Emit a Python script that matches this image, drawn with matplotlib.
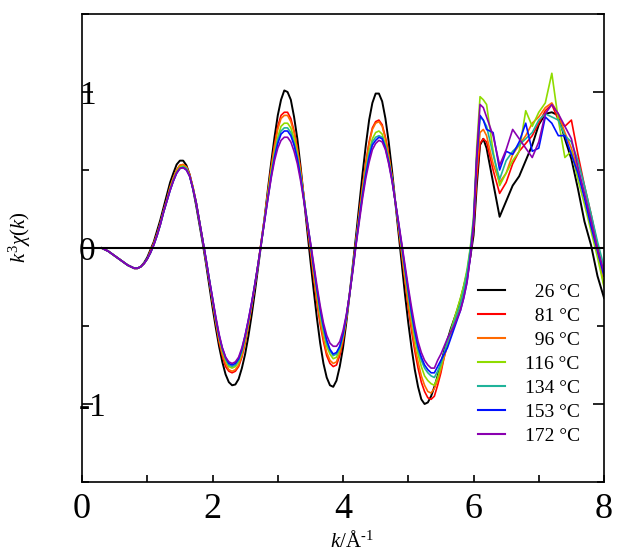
import numpy as np
import matplotlib
matplotlib.use('Agg')
import matplotlib.pyplot as plt
from matplotlib.ticker import MultipleLocator

plt.rcParams['font.family'] = ['Liberation Serif', 'DejaVu Serif']
plt.rcParams['mathtext.fontset'] = 'custom'
plt.rcParams['mathtext.rm'] = 'Liberation Serif'
plt.rcParams['mathtext.it'] = 'Liberation Serif:italic'
plt.rcParams['axes.unicode_minus'] = False

# k grid: 0.30 ... 6.20 every 0.05, then 6.3 ... 8.0 every 0.1
k = np.concatenate([np.arange(0.30, 6.201, 0.05), np.arange(6.3, 8.001, 0.1)])

temps = ['26', '81', '96', '116', '134', '153', '172']
colours = ['black', '#ff0000', '#ff6a00', '#8fdc00', '#1fb39a', '#0010ff', '#8a00b0']

chi_26 = [0.00, -0.01, -0.02, -0.035, -0.05, -0.065, -0.08, -0.095, -0.11, -0.12,
          -0.13, -0.13, -0.12, -0.095, -0.06, -0.01, 0.04, 0.11, 0.18, 0.26,
          0.34, 0.42, 0.48, 0.535, 0.56, 0.56, 0.53, 0.47, 0.38, 0.27,
          0.15, 0.03, -0.10, -0.24, -0.38, -0.51, -0.63, -0.73, -0.81, -0.86,
          -0.88, -0.875, -0.84, -0.77, -0.68, -0.565, -0.43, -0.28, -0.12, 0.04,
          0.20, 0.38, 0.55, 0.71, 0.85, 0.95, 1.01, 1.00, 0.95, 0.84,
          0.70, 0.52, 0.32, 0.12, -0.08, -0.27, -0.45, -0.61, -0.74, -0.83,
          -0.88, -0.89, -0.85, -0.76, -0.64, -0.48, -0.30, -0.11, 0.08, 0.28,
          0.48, 0.66, 0.82, 0.93, 0.99, 0.99, 0.94, 0.83, 0.68, 0.50,
          0.30, 0.10, -0.10, -0.30, -0.48, -0.64, -0.78, -0.89, -0.97, -1.00,
          -0.99, -0.95, -0.89, -0.82, -0.74, -0.66, -0.59, -0.52, -0.46, -0.40,
          -0.33, -0.25, -0.16, -0.06, 0.08, 0.40, 0.66, 0.70, 0.64,
          0.42, 0.20, 0.30, 0.40, 0.46, 0.56, 0.66, 0.79, 0.86, 0.87,
          0.85, 0.70, 0.57, 0.38, 0.17, 0.02, -0.18, -0.32]
chi_81 = [0.00, -0.01, -0.02, -0.035, -0.05, -0.065, -0.08, -0.095, -0.11, -0.12,
          -0.13, -0.13, -0.12, -0.10, -0.07, -0.02, 0.03, 0.09, 0.16, 0.24,
          0.31, 0.39, 0.45, 0.50, 0.53, 0.535, 0.52, 0.47, 0.39, 0.29,
          0.17, 0.05, -0.08, -0.21, -0.35, -0.48, -0.60, -0.69, -0.76, -0.79,
          -0.80, -0.79, -0.76, -0.70, -0.61, -0.50, -0.38, -0.24, -0.10, 0.05,
          0.20, 0.36, 0.52, 0.66, 0.78, 0.85, 0.87, 0.87, 0.83, 0.75,
          0.64, 0.50, 0.33, 0.15, -0.02, -0.19, -0.35, -0.49, -0.60, -0.69,
          -0.74, -0.76, -0.75, -0.69, -0.60, -0.46, -0.30, -0.13, 0.05, 0.23,
          0.40, 0.55, 0.68, 0.77, 0.81, 0.82, 0.79, 0.71, 0.60, 0.46,
          0.30, 0.13, -0.04, -0.21, -0.38, -0.53, -0.66, -0.77, -0.86, -0.92,
          -0.96, -0.97, -0.95, -0.88, -0.80, -0.70, -0.62, -0.56, -0.50, -0.44,
          -0.38, -0.30, -0.20, -0.06, 0.12, 0.45, 0.67, 0.70, 0.68,
          0.50, 0.35, 0.42, 0.54, 0.62, 0.67, 0.72, 0.80, 0.88, 0.92,
          0.82, 0.78, 0.82, 0.60, 0.40, 0.22, 0.02, -0.18]
chi_96 = [0.00, -0.01, -0.02, -0.035, -0.05, -0.065, -0.08, -0.095, -0.11, -0.12,
          -0.13, -0.13, -0.12, -0.10, -0.07, -0.02, 0.03, 0.09, 0.16, 0.24,
          0.31, 0.39, 0.45, 0.50, 0.53, 0.535, 0.52, 0.47, 0.39, 0.29,
          0.17, 0.05, -0.08, -0.21, -0.34, -0.47, -0.59, -0.68, -0.74, -0.78,
          -0.79, -0.78, -0.75, -0.69, -0.60, -0.49, -0.37, -0.24, -0.10, 0.05,
          0.20, 0.36, 0.51, 0.65, 0.76, 0.83, 0.85, 0.85, 0.81, 0.74,
          0.63, 0.49, 0.33, 0.16, 0.00, -0.17, -0.33, -0.47, -0.58, -0.67,
          -0.72, -0.74, -0.73, -0.67, -0.58, -0.45, -0.30, -0.13, 0.05, 0.22,
          0.39, 0.54, 0.67, 0.76, 0.80, 0.81, 0.78, 0.70, 0.59, 0.46,
          0.30, 0.14, -0.03, -0.20, -0.36, -0.50, -0.63, -0.73, -0.82, -0.88,
          -0.92, -0.93, -0.90, -0.85, -0.78, -0.70, -0.62, -0.56, -0.50, -0.43,
          -0.36, -0.28, -0.18, -0.04, 0.14, 0.50, 0.74, 0.76, 0.72,
          0.54, 0.42, 0.48, 0.60, 0.66, 0.72, 0.80, 0.84, 0.90, 0.93,
          0.86, 0.74, 0.64, 0.50, 0.34, 0.16, -0.02, -0.24]
chi_116 = [0.00, -0.01, -0.02, -0.035, -0.05, -0.065, -0.08, -0.095, -0.11, -0.12,
           -0.13, -0.13, -0.12, -0.10, -0.07, -0.03, 0.02, 0.08, 0.15, 0.23,
           0.30, 0.38, 0.44, 0.49, 0.52, 0.525, 0.51, 0.46, 0.39, 0.29,
           0.17, 0.05, -0.08, -0.20, -0.33, -0.46, -0.57, -0.66, -0.72, -0.76,
           -0.77, -0.76, -0.73, -0.67, -0.58, -0.48, -0.36, -0.23, -0.10, 0.04,
           0.19, 0.34, 0.49, 0.61, 0.71, 0.78, 0.80, 0.80, 0.77, 0.70,
           0.60, 0.47, 0.32, 0.17, 0.02, -0.14, -0.29, -0.43, -0.54, -0.63,
           -0.68, -0.71, -0.70, -0.65, -0.57, -0.45, -0.30, -0.13, 0.04, 0.20,
           0.36, 0.50, 0.62, 0.70, 0.74, 0.75, 0.73, 0.66, 0.57, 0.45,
           0.30, 0.15, 0.00, -0.16, -0.31, -0.45, -0.58, -0.68, -0.76, -0.82,
           -0.85, -0.87, -0.88, -0.83, -0.76, -0.68, -0.60, -0.53, -0.46, -0.39,
           -0.32, -0.24, -0.14, 0.00, 0.20, 0.65, 0.97, 0.95, 0.92,
           0.62, 0.40, 0.48, 0.56, 0.62, 0.88, 0.78, 0.87, 0.93, 1.12,
           0.82, 0.58, 0.62, 0.44, 0.28, 0.11, -0.06, -0.25]
chi_134 = [0.00, -0.01, -0.02, -0.035, -0.05, -0.065, -0.08, -0.095, -0.11, -0.12,
           -0.13, -0.13, -0.12, -0.10, -0.07, -0.03, 0.02, 0.08, 0.15, 0.23,
           0.30, 0.37, 0.43, 0.48, 0.51, 0.52, 0.51, 0.46, 0.38, 0.29,
           0.17, 0.05, -0.07, -0.20, -0.33, -0.45, -0.56, -0.65, -0.71, -0.75,
           -0.76, -0.75, -0.72, -0.66, -0.57, -0.47, -0.36, -0.23, -0.10, 0.04,
           0.19, 0.33, 0.47, 0.59, 0.69, 0.75, 0.77, 0.77, 0.74, 0.67,
           0.58, 0.46, 0.32, 0.18, 0.03, -0.12, -0.27, -0.41, -0.52, -0.61,
           -0.66, -0.69, -0.68, -0.64, -0.56, -0.44, -0.30, -0.14, 0.03, 0.19,
           0.35, 0.49, 0.60, 0.68, 0.71, 0.72, 0.71, 0.65, 0.56, 0.44,
           0.30, 0.16, 0.01, -0.14, -0.29, -0.43, -0.55, -0.65, -0.72, -0.77,
           -0.80, -0.82, -0.83, -0.79, -0.74, -0.67, -0.60, -0.54, -0.48, -0.42,
           -0.36, -0.27, -0.16, -0.01, 0.18, 0.58, 0.84, 0.82, 0.78,
           0.60, 0.44, 0.56, 0.62, 0.66, 0.70, 0.74, 0.82, 0.86, 0.84,
           0.82, 0.72, 0.68, 0.56, 0.40, 0.22, 0.04, -0.12]
chi_153 = [0.00, -0.01, -0.02, -0.035, -0.05, -0.065, -0.08, -0.095, -0.11, -0.12,
           -0.13, -0.13, -0.12, -0.10, -0.07, -0.03, 0.02, 0.08, 0.15, 0.23,
           0.30, 0.37, 0.43, 0.48, 0.51, 0.515, 0.50, 0.46, 0.38, 0.29,
           0.17, 0.05, -0.07, -0.20, -0.32, -0.45, -0.56, -0.64, -0.70, -0.74,
           -0.75, -0.74, -0.71, -0.65, -0.56, -0.46, -0.35, -0.23, -0.10, 0.04,
           0.18, 0.32, 0.46, 0.58, 0.67, 0.73, 0.75, 0.75, 0.72, 0.66,
           0.57, 0.45, 0.31, 0.17, 0.03, -0.12, -0.26, -0.39, -0.50, -0.59,
           -0.65, -0.68, -0.67, -0.63, -0.55, -0.44, -0.30, -0.14, 0.03, 0.19,
           0.34, 0.47, 0.58, 0.66, 0.69, 0.71, 0.70, 0.64, 0.55, 0.44,
           0.30, 0.16, 0.02, -0.13, -0.27, -0.41, -0.53, -0.63, -0.70, -0.75,
           -0.78, -0.80, -0.80, -0.76, -0.72, -0.68, -0.64, -0.58, -0.52, -0.46,
           -0.40, -0.32, -0.22, -0.06, 0.15, 0.58, 0.85, 0.82, 0.76,
           0.74, 0.50, 0.62, 0.60, 0.68, 0.80, 0.62, 0.64, 0.84, 0.80,
           0.72, 0.72, 0.60, 0.48, 0.32, 0.14, -0.02, -0.18]
chi_172 = [0.00, -0.01, -0.02, -0.035, -0.05, -0.065, -0.08, -0.095, -0.11, -0.12,
           -0.13, -0.13, -0.12, -0.10, -0.07, -0.03, 0.02, 0.08, 0.15, 0.23,
           0.30, 0.37, 0.43, 0.48, 0.51, 0.515, 0.50, 0.46, 0.38, 0.29,
           0.17, 0.05, -0.07, -0.20, -0.32, -0.44, -0.55, -0.64, -0.70, -0.73,
           -0.74, -0.73, -0.70, -0.64, -0.56, -0.46, -0.35, -0.23, -0.10, 0.04,
           0.18, 0.32, 0.45, 0.56, 0.64, 0.69, 0.71, 0.71, 0.68, 0.62,
           0.54, 0.43, 0.30, 0.17, 0.04, -0.10, -0.24, -0.37, -0.48, -0.56,
           -0.61, -0.63, -0.63, -0.60, -0.53, -0.43, -0.30, -0.15, 0.02, 0.17,
           0.32, 0.45, 0.55, 0.63, 0.67, 0.69, 0.68, 0.63, 0.54, 0.43,
           0.30, 0.17, 0.03, -0.11, -0.25, -0.38, -0.50, -0.60, -0.67, -0.72,
           -0.75, -0.77, -0.77, -0.72, -0.68, -0.63, -0.58, -0.54, -0.50, -0.45,
           -0.40, -0.32, -0.22, -0.06, 0.15, 0.60, 0.92, 0.90, 0.84,
           0.72, 0.53, 0.63, 0.76, 0.70, 0.64, 0.58, 0.68, 0.86, 0.92,
           0.86, 0.78, 0.70, 0.52, 0.35, 0.18, -0.01, -0.15]

series = [chi_26, chi_81, chi_96, chi_116, chi_134, chi_153, chi_172]
for s in series:
    assert len(s) == len(k), (len(s), len(k))

fig = plt.figure(figsize=(6.19, 5.53), dpi=100)
ax = fig.add_axes([0.1325, 0.1284, 0.8433, 0.8463])

for i in range(len(series)):
    # two spaces = one digit, keeps the labels flush on the right
    lab = temps[i] + ' °C'
    if len(temps[i]) < 3:
        lab = '  ' + lab
    ax.plot(k, series[i], color=colours[i], lw=1.4 if i == 0 else 1.2, label=lab)

ax.axhline(0, color='black', lw=1.5, zorder=3)

ax.set_xlim(0, 8)
ax.set_ylim(-1.5, 1.5)
ax.xaxis.set_major_locator(MultipleLocator(2))
ax.xaxis.set_minor_locator(MultipleLocator(1))
ax.yaxis.set_major_locator(MultipleLocator(1))
ax.yaxis.set_minor_locator(MultipleLocator(0.5))
ax.tick_params(which='both', direction='in', top=False, right=True)
ax.tick_params(which='major', length=8, width=1.2)
ax.tick_params(which='minor', length=5, width=1.2)
ax.tick_params(axis='x', which='major', length=5, labelsize=26, pad=8)
ax.tick_params(axis='y', labelsize=24, pad=2)
for t in ax.get_yticklabels():
    t.set_horizontalalignment('left')
for sp in ax.spines.values():
    sp.set_linewidth(1.2)

# hyphen (U+2010) in the exponent, as in the original, not a wide minus
ax.set_xlabel('$k$/Å$^{\\rm \u20101}$', fontsize=15)
ax.xaxis.set_label_coords(0.517, -0.105)
ax.set_ylabel(r'$k^3\chi(k)$', fontsize=15)
ax.yaxis.set_label_coords(-0.094, 0.523)

leg = ax.legend(loc='upper left', bbox_to_anchor=(0.7586, 0.425), frameon=False,
                fontsize=14, handlelength=1.4, handletextpad=1.0,
                labelspacing=0.33, borderpad=0, borderaxespad=0)
for line in leg.get_lines():
    line.set_linewidth(1.5)

plt.savefig('out.png', dpi=100)
